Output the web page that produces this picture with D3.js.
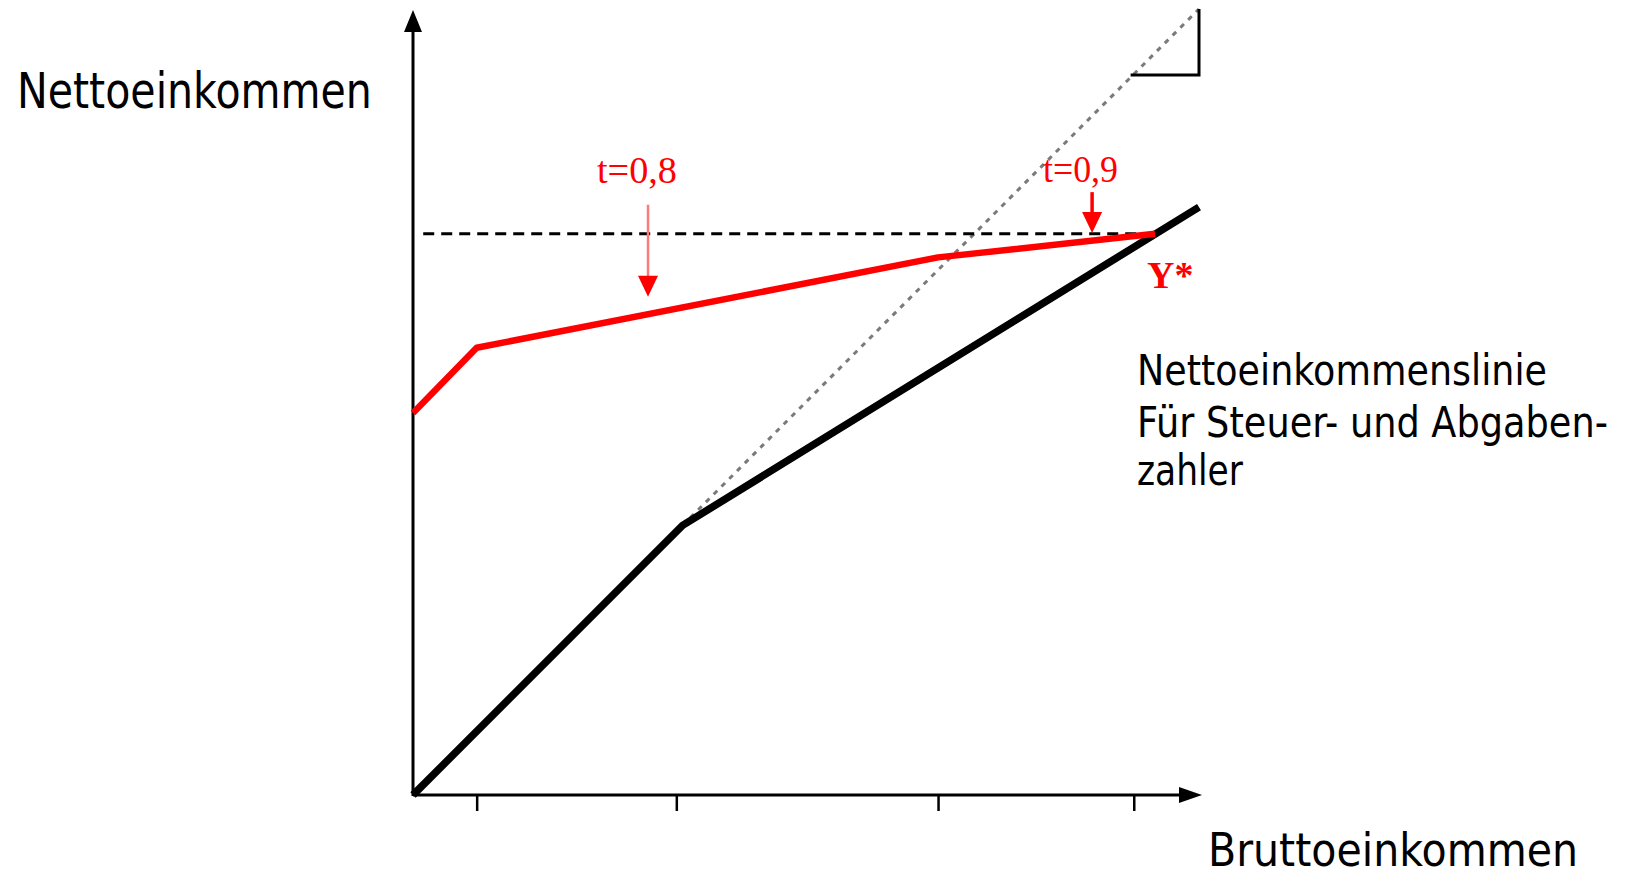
<!DOCTYPE html>
<html>
<head>
<meta charset="utf-8">
<script src="https://cdn.jsdelivr.net/npm/d3@7"></script>
<style>
  html, body { margin: 0; padding: 0; background: #fff; }
  svg { display: block; }
</style>
</head>
<body>
<svg id="chart" width="1634" height="879"></svg>
<script>
// ---- data (model units: gross income x, net income y, 0..100) ----
const xTicks = [8.1, 33.5, 66.8, 91.7];
const netLine = [[0, 0], [34.3, 34.3], [100, 74.8]];            // black net-income line
const equalityLine = [[34.3, 34.3], [100, 100]];                 // gray dotted 45° line
const transferLine = [[0, 48.6], [8.1, 56.9], [66.8, 68.4], [94.4, 71.4]]; // red line
const yStarLevel = 71.4;                                         // dashed horizontal
const dashedFrom = 1.3, dashedTo = 94.4;
const slopeMarker = [[91.3, 91.6], [100, 91.6], [100, 100]];
const arrows = [
  { label: "t=0,8", x: 29.9, from: 75.1, to: 63.4 },
  { label: "t=0,9", x: 86.4, from: 76.7, to: 71.5 }
];
const yLabel = "Nettoeinkommen";
const xLabel = "Bruttoeinkommen";
const lineLabel = ["Nettoeinkommenslinie", "Für Steuer- und Abgaben-", "zahler"];
const yStarLabel = "Y*";

// ---- scales ----
const svg = d3.select("#chart");
const x = d3.scaleLinear().domain([0, 100]).range([413, 1199]);
const y = d3.scaleLinear().domain([0, 100]).range([795, 9]);
const line = d3.line().x(d => x(d[0])).y(d => y(d[1]));

// ---- axes ----
const axisColor = "#000";
svg.append("line").attr("x1", x(0)).attr("x2", x(0)).attr("y1", y(0) + 1).attr("y2", 28)
  .attr("stroke", axisColor).attr("stroke-width", 3);
svg.append("path")
  .attr("d", `M${x(0) - 9},32 L${x(0)},10 L${x(0) + 9},32 Z`).attr("fill", axisColor);

svg.append("line").attr("x1", x(0)).attr("x2", 1182).attr("y1", y(0)).attr("y2", y(0))
  .attr("stroke", axisColor).attr("stroke-width", 3);
svg.append("path")
  .attr("d", `M1179,${y(0) - 8} L1202,${y(0)} L1179,${y(0) + 8} Z`).attr("fill", axisColor);

const xAxis = d3.axisBottom(x).tickValues(xTicks).tickSize(16).tickFormat("");
const gx = svg.append("g").attr("transform", `translate(0,${y(0)})`).call(xAxis);
gx.select(".domain").remove();
gx.selectAll(".tick line").attr("stroke", "#000").attr("stroke-width", 2.5);

// ---- gray dotted equality line ----
svg.append("path").attr("d", line(equalityLine)).attr("fill", "none")
  .attr("stroke", "#7a7a7a").attr("stroke-width", 3).attr("stroke-dasharray", "5,6");

// ---- slope marker ----
svg.append("path").attr("d", line(slopeMarker)).attr("fill", "none")
  .attr("stroke", "#000").attr("stroke-width", 3);

// ---- dashed Y* line ----
svg.append("line")
  .attr("x1", x(dashedFrom)).attr("x2", x(dashedTo))
  .attr("y1", y(yStarLevel)).attr("y2", y(yStarLevel))
  .attr("stroke", "#000").attr("stroke-width", 3).attr("stroke-dasharray", "11,7");

// ---- black net line ----
svg.append("path").attr("d", line(netLine)).attr("fill", "none")
  .attr("stroke", "#000").attr("stroke-width", 7.5).attr("stroke-linejoin", "round");

// ---- red line ----
svg.append("path").attr("d", line(transferLine)).attr("fill", "none")
  .attr("stroke", "#ff0000").attr("stroke-width", 6.5).attr("stroke-linejoin", "round");

// ---- arrows ----
arrows.forEach((a, i) => {
  const ax = x(a.x), y0 = y(a.from), y1 = y(a.to);
  svg.append("line").attr("x1", ax).attr("x2", ax).attr("y1", y0).attr("y2", y1 - 18)
    .attr("stroke", i === 0 ? "#ff7a7a" : "#ff0000").attr("stroke-width", i === 0 ? 2.5 : 3.5);
  svg.append("path")
    .attr("d", `M${ax - 10},${y1 - 21} L${ax + 10},${y1 - 21} L${ax},${y1} Z`)
    .attr("fill", "#ff0000");
});

// ---- red serif labels ----
const serif = "'Liberation Serif', 'Times New Roman', serif";
function fitText(sel, x0, target) {
  const w = sel.node().getComputedTextLength();
  const k = target / w;
  sel.attr("x", 0).attr("transform", `translate(${x0},0) scale(${k},1)`);
}
const t1 = svg.append("text").attr("y", 183).text(arrows[0].label)
  .attr("font-family", serif).attr("font-size", 38).attr("fill", "#ff0000");
fitText(t1, 597, 80);
const t2 = svg.append("text").attr("y", 182).text(arrows[1].label)
  .attr("font-family", serif).attr("font-size", 38).attr("fill", "#ff0000");
fitText(t2, 1043, 75);
svg.append("text").attr("x", 1147).attr("y", 288).text(yStarLabel)
  .attr("font-family", serif).attr("font-size", 38).attr("fill", "#ff0000")
  .attr("font-weight", "bold");

// ---- black sans labels ----
const sans = "'DejaVu Sans', Verdana, sans-serif";
const yl = svg.append("text").attr("y", 108).text(yLabel)
  .attr("font-family", sans).attr("font-size", 50).attr("fill", "#000");
fitText(yl, 17, 355);
const xl = svg.append("text").attr("y", 866).text(xLabel)
  .attr("font-family", sans).attr("font-size", 46).attr("fill", "#000");
fitText(xl, 1208, 370);

const lens = [410, 471, 106];
const bases = [385, 437, 485];
lineLabel.forEach((t, i) => {
  const tx = svg.append("text").attr("y", bases[i]).text(t)
    .attr("font-family", sans).attr("font-size", 42).attr("fill", "#000");
  fitText(tx, 1137, lens[i]);
});
</script>
</body>
</html>
